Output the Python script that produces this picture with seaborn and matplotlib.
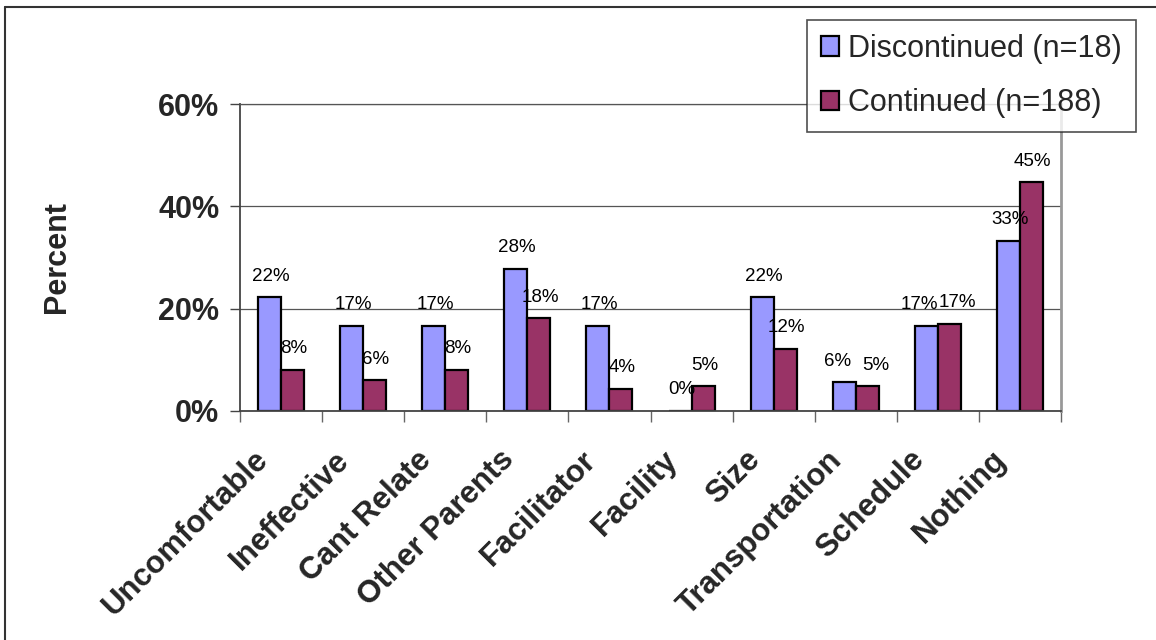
"""Reasons for discontinuing: grouped bar chart, Excel style."""
import pandas as pd
import seaborn as sns
import matplotlib.pyplot as plt
import matplotlib.transforms as mtransforms
from matplotlib.lines import Line2D
from matplotlib.ticker import FuncFormatter

categories = ['Uncomfortable', 'Ineffective', 'Cant Relate', 'Other Parents', 'Facilitator',
              'Facility', 'Size', 'Transportation', 'Schedule', 'Nothing']
discontinued = [22.2, 16.7, 16.7, 27.8, 16.7, 0.0, 22.2, 5.6, 16.7, 33.3]
continued = [8.0, 6.0, 8.0, 18.1, 4.3, 4.8, 12.2, 4.8, 17.0, 44.7]
series = ['Discontinued (n=18)', 'Continued (n=188)']
colors = ['#9999FF', '#993366']
yticks = [0, 20, 40, 60]

# long format for seaborn
df = pd.DataFrame({
    'category': categories * 2,
    'percent': discontinued + continued,
    'group': [series[0]] * len(categories) + [series[1]] * len(categories),
})

sns.set_style('white')
plt.rcParams['font.family'] = ['Liberation Sans', 'DejaVu Sans']

fig = plt.figure(figsize=(11.56, 6.4), dpi=100)
ax = fig.add_axes([240 / 1156, 1 - 411 / 640, (1061 - 240) / 1156, (411 - 104) / 640])

sns.barplot(data=df, x='category', y='percent', hue='group', order=categories,
            hue_order=series, palette=colors, width=0.56, gap=0,
            edgecolor='black', linewidth=1.6, saturation=1, ax=ax)

# value labels above each bar; push apart a pair that sits at the same height
for k, (container, vals) in enumerate(zip(ax.containers, [discontinued, continued])):
    for i, (bar, v) in enumerate(zip(container, vals)):
        dx = 1
        if abs(discontinued[i] - continued[i]) < 2:
            dx = -5 if k == 0 else 6
        ax.annotate(f'{round(v)}%', (bar.get_x() + bar.get_width() / 2, bar.get_height()),
                    xytext=(dx, 12), textcoords='offset points', ha='center', va='baseline',
                    fontsize=13.5, color='black')

ax.set_ylim(0, 60)
ax.set_xlim(-0.5, len(categories) - 0.5)
ax.set_yticks(yticks)
ax.yaxis.set_major_formatter(FuncFormatter(lambda v, p: f'{int(v)}%'))
ax.tick_params(axis='y', which='major', left=True, length=7, width=1, color='#444444',
               labelsize=22, pad=8)
for lab in ax.get_yticklabels():
    lab.set_fontweight('bold')

ax.yaxis.grid(True, color='#555555', linewidth=0.9)
ax.set_axisbelow(True)

# x ticks between categories, labels rotated
ax.set_xticks([i - 0.5 for i in range(len(categories) + 1)], minor=False)
ax.set_xticklabels([''] * (len(categories) + 1))
ax.set_xticks(range(len(categories)), minor=True)
ax.set_xticklabels(categories, minor=True, rotation=45, ha='right', va='center',
                   rotation_mode='anchor', fontsize=22.5, fontweight='bold')
ax.tick_params(axis='x', which='major', bottom=True, length=8, width=1, color='#666666')
ax.tick_params(axis='x', which='minor', bottom=False, length=0, pad=32)
shift = mtransforms.ScaledTranslation(-18 / 100, 0, fig.dpi_scale_trans)
for lab in ax.get_xticklabels(minor=True):
    lab.set_transform(lab.get_transform() + shift)

ax.set_xlabel('')
ax.set_ylabel('Percent', fontsize=22, fontweight='bold', labelpad=62)

for side in ['left', 'bottom']:
    ax.spines[side].set_color('#444444')
    ax.spines[side].set_linewidth(1.3)
ax.spines['top'].set_color('#555555')
ax.spines['top'].set_linewidth(0.9)
ax.spines['right'].set_color('#999999')
ax.spines['right'].set_linewidth(2)

leg = ax.legend(loc='upper left', bbox_to_anchor=(807 / 1156, 1 - 20 / 640),
                bbox_transform=fig.transFigure, fontsize=22, frameon=True, fancybox=False,
                handlelength=0.6, handleheight=0.6, handletextpad=0.3,
                labelspacing=0.8, borderpad=0.45, borderaxespad=0)
leg.get_frame().set_edgecolor('#222222')
leg.get_frame().set_linewidth(1.2)
leg.set_zorder(5)

# chart-area border (cropped on the right and bottom)
fig.add_artist(Line2D([5 / 1156, 5 / 1156], [0, 1 - 7 / 640], color='#333333', lw=1.5))
fig.add_artist(Line2D([5 / 1156, 1], [1 - 7 / 640, 1 - 7 / 640], color='#333333', lw=1.5))

fig.savefig('out.png', dpi=100)
